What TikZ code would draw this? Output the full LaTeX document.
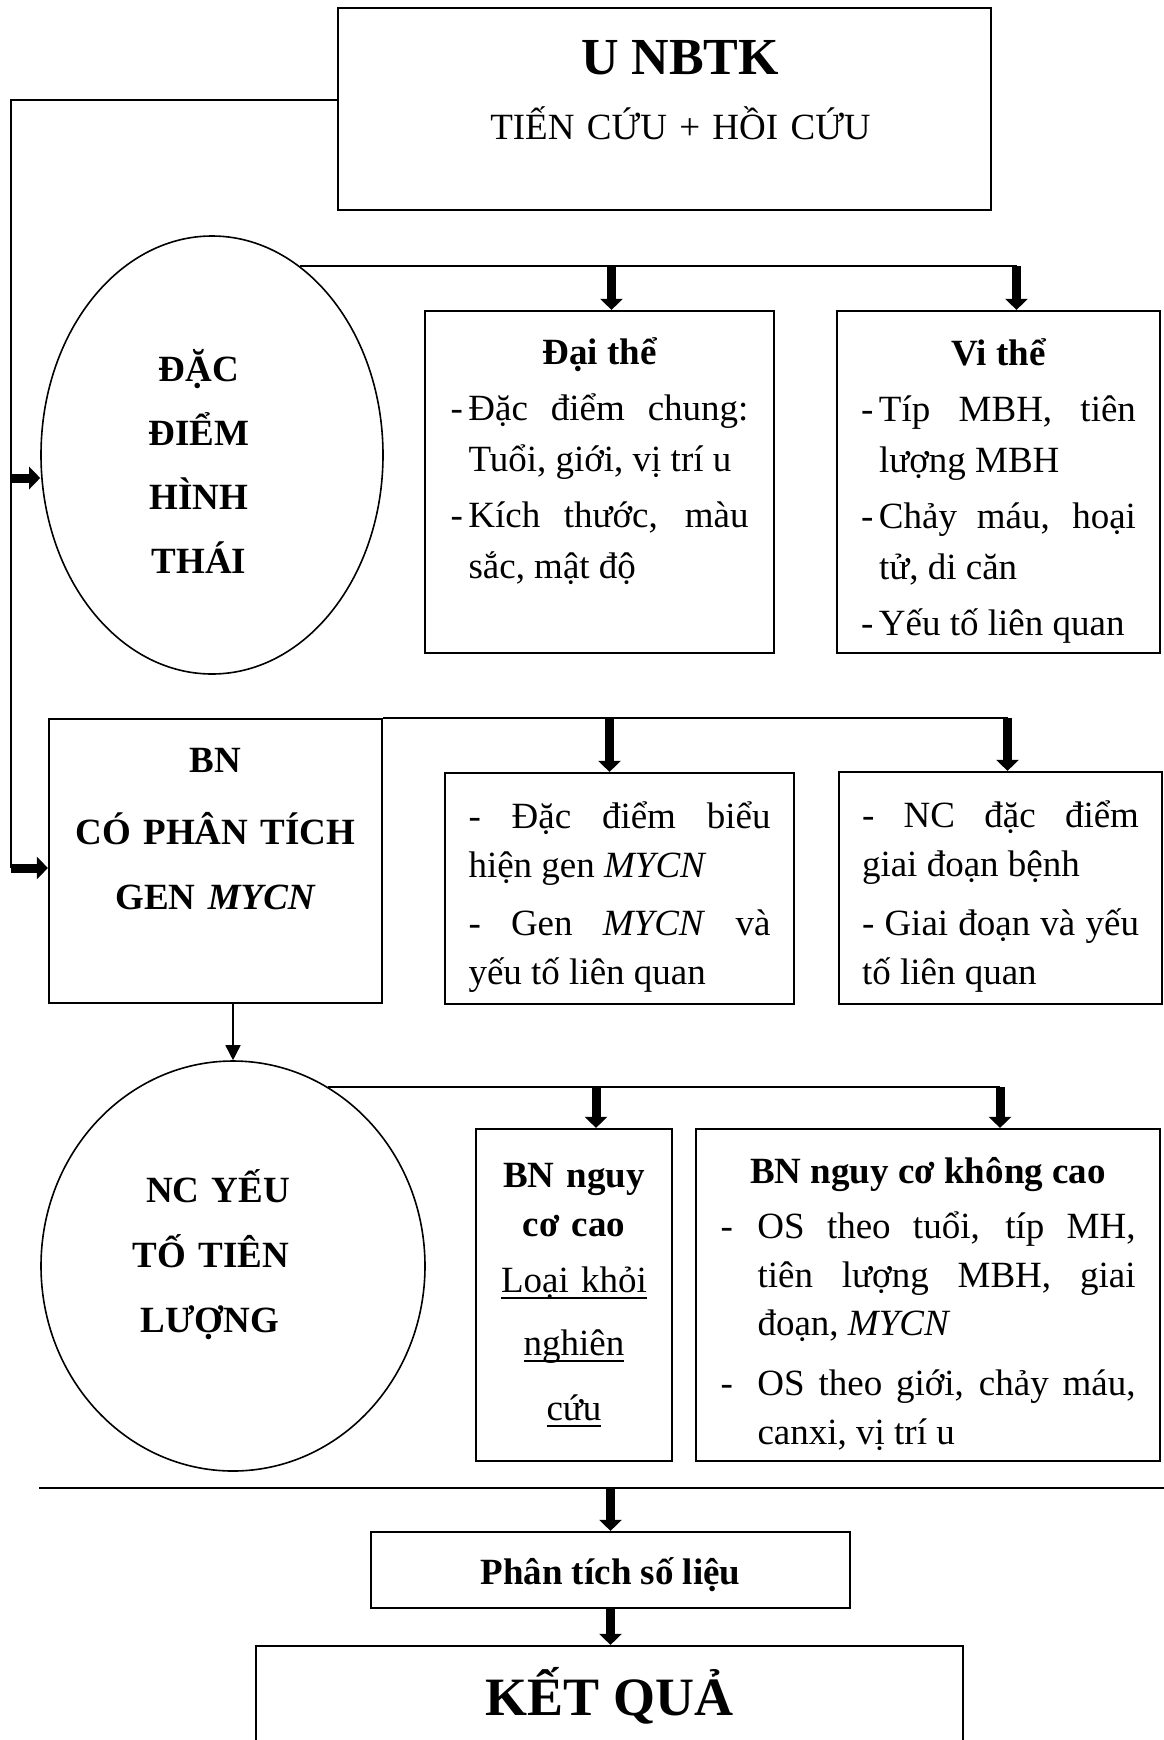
\documentclass[tikz,border=0pt]{standalone}
\usepackage{fontspec}
\setmainfont{Liberation Serif}
\usetikzlibrary{shapes.geometric, arrows.meta}
\tolerance=10000
\hbadness=10000
\hyphenpenalty=10000
\newcommand{\ulword}[1]{\leavevmode\setbox0=\hbox{#1}\rlap{\rule[-6pt]{\wd0}{1.8pt}}\box0}

\begin{document}
\begin{tikzpicture}[x=1pt, y=-1pt,
  box/.style={draw=\cLine, line width=\wBox, inner sep=0pt, font=\fontsize{37}{51}\selectfont},
  bubble/.style={ellipse, draw=\cLine, line width=\wOval, inner sep=0pt, align=center, font=\fontsize{37}{63.7}\selectfont\bfseries},
  link/.style={draw=\cLine, line width=\wLine},
  bigarr/.style={draw=\cLine, line width=9pt, -{Triangle[length=11pt, width=22pt]}},
  thinarr/.style={draw=\cLine, line width=\wOval, -{Triangle[length=15pt, width=15pt]}}]
\def\cLine{black}
\def\wBox{2.2pt}
\def\wOval{1.6pt}
\def\wLine{2pt}
\useasboundingbox (0,0) rectangle (1164,1740);

\node[box, minimum width=653pt, minimum height=202pt, text width=600pt, align=center] (top) at (664.5,109)
  {{\fontsize{52}{60}\selectfont\bfseries\hspace*{32pt}U NBTK\par}
   {\fontsize{37}{65}\selectfont\hspace*{32pt}TIẾN CỨU + HỒI CỨU\rule[-39pt]{0pt}{0pt}\par}};

\node[bubble, minimum width=342pt, minimum height=438pt, text width=200pt] (morph) at (212,455)
  {\hspace*{-26pt}\rule{0pt}{45pt}ĐẶC\\ \hspace*{-26pt}ĐIỂM\\ \hspace*{-26pt}HÌNH\\ \hspace*{-26pt}THÁI};

\node[box, minimum width=349pt, minimum height=342pt, text width=298pt, align=justify] (dai) at (599.5,482)
  {\parskip=5pt
   {\centering\bfseries Đại thể\par}
   \hangindent=18pt\hangafter=1 \makebox[18pt][l]{-}Đặc điểm chung:\linebreak Tuổi, giới, vị trí u\par
   \hangindent=18pt\hangafter=1 \makebox[18pt][l]{-}Kích thước, màu\linebreak sắc, mật độ\rule[-48pt]{0pt}{0pt}\par};

\node[box, minimum width=323pt, minimum height=342pt, text width=275pt, align=justify] (vi) at (998.5,482)
  {\parskip=5pt
   {\centering\bfseries\rule{0pt}{44pt}Vi thể\par}
   \hangindent=18pt\hangafter=1 \makebox[18pt][l]{-}Típ MBH, tiên\linebreak lượng MBH\par
   \hangindent=18pt\hangafter=1 \makebox[18pt][l]{-}Chảy máu, hoại\linebreak tử, di căn\par
   \hangindent=18pt\hangafter=1 \makebox[18pt][l]{-}Yếu tố liên quan\par};

\node[box, minimum width=333pt, minimum height=284pt, text width=300pt, align=center, font=\fontsize{37}{65}\selectfont\bfseries] (bn) at (215.5,861)
  {BN\\[7pt] CÓ PHÂN TÍCH\\ GEN \textit{MYCN}\rule[-64pt]{0pt}{0pt}};

\node[box, minimum width=349pt, minimum height=231pt, text width=302pt, align=justify, font=\fontsize{37}{49}\selectfont] (gen) at (619.5,888.5)
  {\parskip=9.5pt
   \rule{0pt}{44pt}- Đặc điểm biểu\linebreak hiện gen \textit{MYCN}\par
   - Gen \textit{MYCN} và\linebreak yếu tố liên quan\par};

\node[box, minimum width=323pt, minimum height=232pt, text width=277pt, align=justify, font=\fontsize{37}{49}\selectfont] (nc) at (1000.5,888)
  {\parskip=9.5pt
   \rule{0pt}{44pt}- NC đặc điểm\linebreak giai đoạn bệnh\par
   - Giai đoạn và yếu\linebreak tố liên quan\par};

\node[bubble, minimum width=384pt, minimum height=410pt, text width=250pt, font=\fontsize{37}{65}\selectfont\bfseries] (prog) at (233,1266)
  {\hspace*{-30pt}NC YẾU\\ \hspace*{-44pt}TỐ TIÊN\\ \hspace*{-46pt}LƯỢNG\rule[-29pt]{0pt}{0pt}};

\node[box, minimum width=196pt, minimum height=332pt, text width=180pt, align=center, font=\fontsize{37}{49}\selectfont] (high) at (574,1295)
  {\textbf{BN nguy}\\ \textbf{cơ cao}\\[7pt] \ulword{Loại khỏi}\\[14pt] \ulword{nghiên}\\[16pt] \ulword{cứu}};

\node[box, minimum width=464pt, minimum height=332pt, text width=415pt, align=justify, font=\fontsize{37}{48.5}\selectfont] (low) at (928,1295)
  {\parskip=11.5pt
   {\centering\bfseries\rule{0pt}{44pt}BN nguy cơ không cao\par}
   \vspace{-5pt}
   \hangindent=37pt\hangafter=1 \makebox[37pt][l]{-}OS theo tuổi, típ MH,\linebreak tiên lượng MBH, giai\linebreak đoạn, \textit{MYCN}\par
   \hangindent=37pt\hangafter=1 \makebox[37pt][l]{-}OS theo giới, chảy máu,\linebreak canxi, vị trí u\par};

\node[box, minimum width=479pt, minimum height=76pt, font=\fontsize{37}{51}\selectfont\bfseries] (anal) at (610.5,1570)
  {\rule{0pt}{37pt}Phân tích số liệu};
\node[box, minimum width=707pt, minimum height=99pt, font=\fontsize{54}{60}\selectfont\bfseries] (result) at (609.5,1695.5)
  {KẾT QUẢ};

\coordinate (a1) at (11,478);
\coordinate (a2) at (11,868);
\draw[link] ([yshift=9pt]top.west) -| (a2);
\draw[bigarr] (a1) -- (a1 -| morph.west);
\draw[bigarr] (a2) -- (a2 -| bn.west);

\coordinate (d1) at ([xshift=12pt]dai.north);
\coordinate (v1) at ([xshift=18pt]vi.north);
\draw[link] (morph.65) -- (morph.65 -| v1);
\draw[bigarr] (morph.65 -| d1) -- (d1);
\draw[bigarr] (morph.65 -| v1) -- (v1);

\coordinate (g1) at ([xshift=-10pt]gen.north);
\coordinate (n1) at ([xshift=7pt]nc.north);
\draw[link] (bn.north east) -- (bn.north east -| n1);
\draw[bigarr] (bn.north east -| g1) -- (g1);
\draw[bigarr] (bn.north east -| n1) -- (n1);

\draw[thinarr] (bn.south -| prog.north) -- (prog.north);

\coordinate (k1) at ([xshift=22pt]high.north);
\coordinate (l1) at ([xshift=72pt]low.north);
\draw[link] (prog.62) -- (prog.62 -| l1);
\draw[bigarr] (prog.62 -| k1) -- (k1);
\draw[bigarr] (prog.62 -| l1) -- (l1);

\coordinate (c1) at (39,1488);
\coordinate (c2) at (1164,1488);
\draw[link] (c1) -- (c2);
\draw[bigarr] (anal.north |- c1) -- (anal.north);
\draw[bigarr] (anal.south) -- (anal.south |- result.north);
\end{tikzpicture}
\end{document}
